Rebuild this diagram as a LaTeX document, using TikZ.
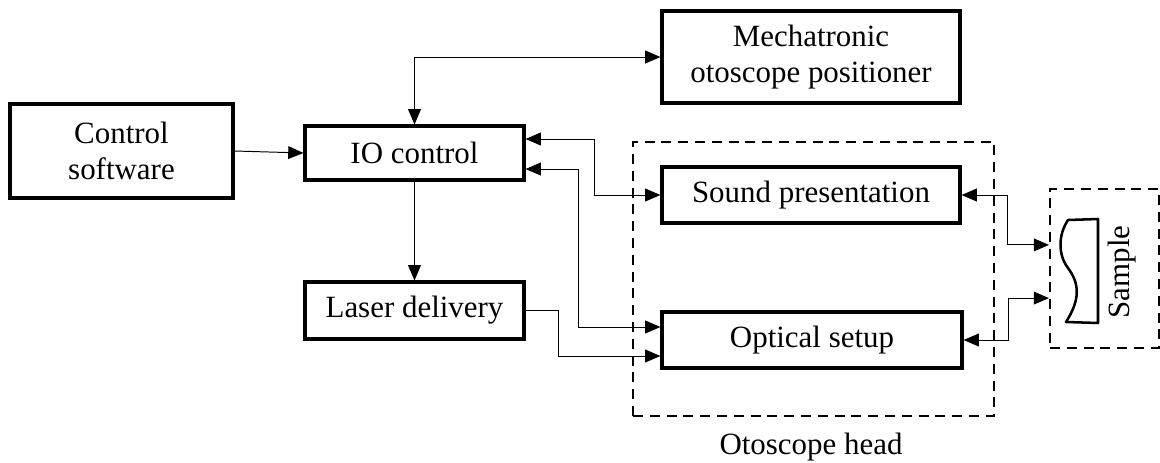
\documentclass[tikz,border=0pt]{standalone}
\usepackage{fontspec}
\setmainfont{Liberation Serif}
\usetikzlibrary{arrows.meta,positioning}
\begin{document}
\begin{tikzpicture}[x=0.025cm, y=-0.025cm, >={Triangle[length=0.38cm,width=0.32cm]},
	every node/.style={font=\fontsize{22}{26}\selectfont, align=center},
	block/.style={draw, line width=2.2pt, rectangle, inner sep=0pt},
	dashbox/.style={draw, dashed, dash pattern=on 0.25cm off 0.17cm, line width=1.4pt, inner sep=0pt},
	link/.style={line width=0.7pt}]

	\useasboundingbox (0,0) rectangle (1160,462);

	\node [dashbox, minimum width=9.025cm, minimum height=6.85cm] (head) at (813.5,279) {};
	\node (headlabel) at (811,447) {Otoscope head};
	\node [dashbox, minimum width=2.725cm, minimum height=3.975cm] (sampbox) at (1104.5,268.5) {};

	\node [block, minimum width=5.575cm, minimum height=2.35cm] (ctrl) at (121.5,151) {Control\\software};
	\node [block, minimum width=5.475cm, minimum height=1.35cm] (io) at (414.5,153) {IO control};
	\node [block, minimum width=5.475cm, minimum height=1.425cm] (laser) at (414.5,310.5) {Laser delivery};
	\node [block, minimum width=7.45cm, minimum height=2.3cm] (mech) at (811,57) {Mechatronic\\otoscope positioner};
	\node [block, minimum width=7.45cm, minimum height=1.4cm] (sound) at (811,195) {Sound presentation};
	\node [block, minimum width=7.5cm, minimum height=1.4cm] (optical) at (812,340) {Optical setup};

	% sample
	\draw [line width=1.8pt, line join=round] (1098,219) -- (1068,220)
		.. controls (1058,235) and (1058,255) .. (1068,268)
		.. controls (1080,284) and (1080,300) .. (1066,322)
		-- (1098,323) -- cycle;
	\node [rotate=90] (samplabel) at (1122,272) {Sample};

	\draw [link, ->] (ctrl.east) -- (io.west);
	\draw [link, <->] (io.north) |- (mech.west);
	\draw [link, ->] (io.south) -- (laser.north);
	\draw [link, <->] ([yshift=0.35cm]io.east) -- ++(69,0) |- (sound.west);
	\draw [link, <->] ([yshift=-0.4cm]io.east) -- ++(53,0) |- ([yshift=0.325cm]optical.west);
	\draw [link, ->] (laser.east) -- ++(33,0) |- ([yshift=-0.4cm]optical.west);
	\draw [link, <->] (sound.east) -- ++(46,0) |- ([yshift=0.59cm]sampbox.west);
	\draw [link, <->] (optical.east) -- ++(45,0) |- ([yshift=-0.74cm]sampbox.west);

\end{tikzpicture}
\end{document}
